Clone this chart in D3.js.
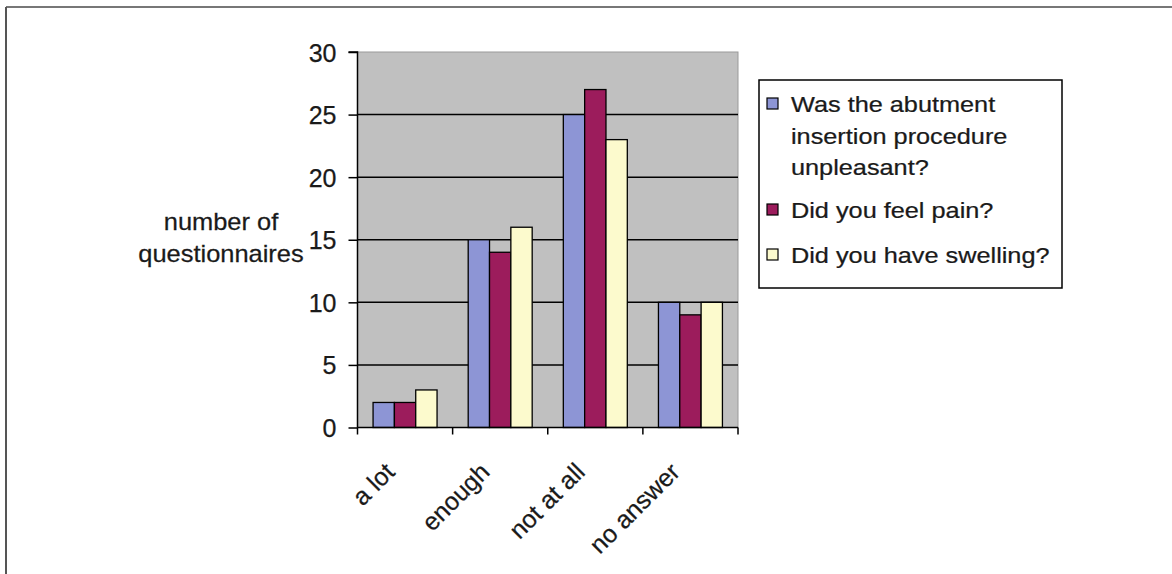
<!DOCTYPE html>
<html><head><meta charset="utf-8">
<script src="https://cdn.jsdelivr.net/npm/d3@7"></script>
<style>
html,body{margin:0;padding:0;background:#fff;}
text{font-family:"Liberation Sans",Arial,sans-serif;fill:#1a1a1a;stroke:#1a1a1a;stroke-width:0.25px;}
</style></head>
<body>
<svg id="chart" width="1172" height="574"></svg>
<script>
const categories = ["a lot", "enough", "not at all", "no answer"];
const seriesNames = ["Was the abutment insertion procedure unpleasant?", "Did you feel pain?", "Did you have swelling?"];
const legendLines = [["Was the abutment", "insertion procedure", "unpleasant?"], ["Did you feel pain?"], ["Did you have swelling?"]];
const unpleasant = [2, 15, 25, 10];
const pain = [2, 14, 27, 9];
const swelling = [3, 16, 23, 10];
const yTicks = [0, 5, 10, 15, 20, 25, 30];
const colors = ["#8d95d5", "#9c1c5c", "#fcfacd"];

(function(){
const series = [unpleasant, pain, swelling];
const svg = d3.select("#chart");

// frame (top and left edges)
svg.append("line").attr("x1",6).attr("x2",1172).attr("y1",7).attr("y2",7).attr("stroke","#777").attr("stroke-width",2);
svg.append("line").attr("x1",6).attr("x2",6).attr("y1",7).attr("y2",574).attr("stroke","#555").attr("stroke-width",2);

const pl = 357.5, pr = 738, pt = 52, pb = 427.5;
const x0 = d3.scaleBand().domain(categories).range([pl, pr]).padding(0);
const x1 = d3.scaleBand().domain([0,1,2]).range([0, x0.bandwidth()]).paddingInner(0).paddingOuter(0.73);
const y = d3.scaleLinear().domain([0, 30]).range([pb, pt]);

// plot area
svg.append("rect").attr("x", pl).attr("y", pt).attr("width", pr-pl).attr("height", pb-pt)
  .attr("fill", "#c0c0c0").attr("stroke", "#9a9a9a").attr("stroke-width", 1);

// gridlines
svg.append("g").selectAll("line").data(yTicks.filter(d => d > 0 && d < 30)).join("line")
  .attr("x1", pl).attr("x2", pr).attr("y1", d => y(d)).attr("y2", d => y(d))
  .attr("stroke", "#000").attr("stroke-width", 1.5);

// bars
const g = svg.append("g");
categories.forEach((c, i) => {
  series.forEach((s, j) => {
    g.append("rect")
      .attr("x", x0(c) + x1(j)).attr("y", y(s[i]))
      .attr("width", x1.bandwidth()).attr("height", y(0) - y(s[i]))
      .attr("fill", colors[j]).attr("stroke", "#000").attr("stroke-width", 1.3);
  });
});

// y axis
const yAxis = d3.axisLeft(y).tickValues(yTicks).tickSize(9).tickPadding(12);
const ya = svg.append("g").attr("transform", `translate(${pl},0)`).call(yAxis);
ya.select(".domain").attr("stroke", "#000").attr("stroke-width", 1.5).attr("d", `M-9,${y(30)}H0V${y(0)}`);
ya.selectAll(".tick line").attr("stroke", "#000").attr("stroke-width", 1.5);
ya.selectAll(".tick text").attr("font-size", 25).attr("fill", "#222")
  .attr("font-family", '"Liberation Sans",Arial,sans-serif').attr("dy", "0.36em");

// x axis
const xa = svg.append("g").attr("transform", `translate(0,${pb})`);
xa.append("line").attr("x1", pl).attr("x2", pr).attr("stroke", "#000").attr("stroke-width", 1.5);
const tickXs = categories.map(c => x0(c)).concat([pr]);
xa.selectAll(".tk").data(tickXs).join("line").attr("class","tk")
  .attr("x1", d => d).attr("x2", d => d).attr("y1", 0).attr("y2", 7)
  .attr("stroke", "#000").attr("stroke-width", 1.5);
xa.selectAll(".lbl").data(categories).join("text").attr("class","lbl")
  .attr("text-anchor", "end").attr("font-size", 25)
  .attr("transform", d => `translate(${x0(d) + x0.bandwidth()/2 - 9},${46}) rotate(-45)`)
  .text(d => d);

// y axis title
const yt = svg.append("g").attr("transform", "translate(221,0) scale(1.06,1)");
yt.append("text").attr("text-anchor", "middle").attr("font-size", 24).attr("x", 0).attr("y", 230).text("number of");
yt.append("text").attr("text-anchor", "middle").attr("font-size", 24).attr("x", 0).attr("y", 262).text("questionnaires");

// legend
const lg = svg.append("g");
lg.append("rect").attr("x", 759).attr("y", 80).attr("width", 303).attr("height", 208)
  .attr("fill", "#fff").attr("stroke", "#000").attr("stroke-width", 1.5);
const baselines = [[112, 144, 175], [218], [263]];
seriesNames.forEach((n, j) => {
  lg.append("rect").attr("x", 767).attr("y", baselines[j][0] - 14).attr("width", 11).attr("height", 11)
    .attr("fill", colors[j]).attr("stroke", "#000").attr("stroke-width", 1.2);
  legendLines[j].forEach((t, k) => {
    lg.append("text").attr("transform", `translate(791,${baselines[j][k]}) scale(1.15,1)`)
      .attr("font-size", 22).text(t);
  });
});
})();
</script>
</body></html>
